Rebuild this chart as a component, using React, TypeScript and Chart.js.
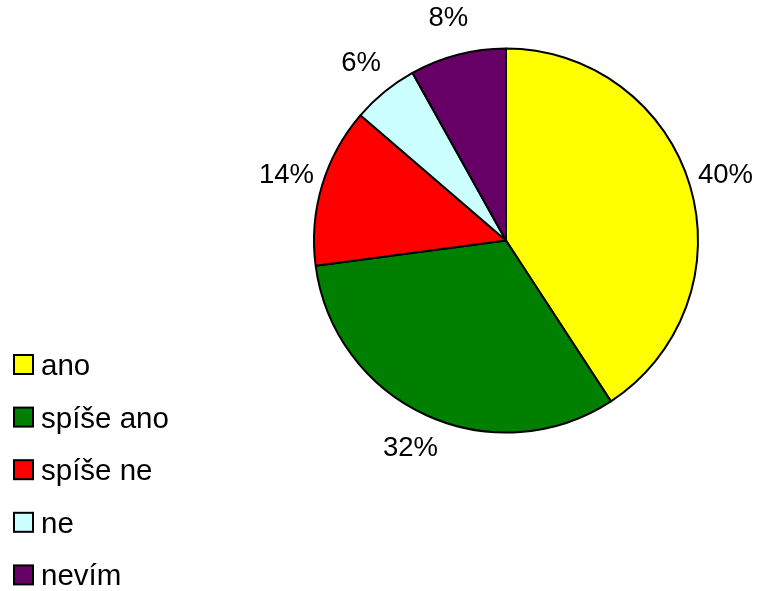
import React, { useEffect, useRef } from "react";
import { Chart, registerables } from "chart.js";

Chart.register(...registerables);

const categories = ["ano", "spíše ano", "spíše ne", "ne", "nevím"];
const shares = [40.8, 32.1, 13.4, 5.6, 8.1];
const percentLabels = ["40%", "32%", "14%", "6%", "8%"];
const sliceColors = ["#FFFF00", "#007F00", "#FF0000", "#CCFFFF", "#660066"];

const FONT = "'Liberation Sans', Arial, sans-serif";

const labelsPlugin = {
  id: "outsideLabels",
  afterDraw(chart: any) {
    const ctx = chart.ctx;
    const meta = chart.getDatasetMeta(0);
    ctx.save();
    ctx.fillStyle = "#000";
    ctx.font = `27.5px ${FONT}`;
    ctx.textAlign = "center";
    ctx.textBaseline = "middle";
    meta.data.forEach((arc: any, i: number) => {
      const p = arc.getProps(["x", "y", "startAngle", "endAngle", "outerRadius"], true);
      const mid = (p.startAngle + p.endAngle) / 2;
      const r = p.outerRadius + 37;
      ctx.fillText(percentLabels[i], p.x + Math.cos(mid) * r, p.y + Math.sin(mid) * r);
    });
    // legend
    const box = 19;
    const startY = 364.5;
    const step = 52.6;
    ctx.textAlign = "left";
    ctx.textBaseline = "alphabetic";
    ctx.font = `29.5px ${FONT}`;
    categories.forEach((c, i) => {
      const cy = startY + i * step;
      ctx.fillStyle = sliceColors[i];
      ctx.fillRect(14, cy - box / 2, box, box);
      ctx.lineWidth = 2;
      ctx.strokeStyle = "#000";
      ctx.strokeRect(14, cy - box / 2, box, box);
      ctx.fillStyle = "#000";
      ctx.fillText(c, 41, cy + 10.5);
    });
    ctx.restore();
  },
};

export default function App() {
  const ref = useRef<HTMLCanvasElement>(null);
  useEffect(() => {
    if (!ref.current) return;
    const chart = new Chart(ref.current, {
      type: "pie",
      data: {
        labels: categories,
        datasets: [
          {
            data: shares,
            backgroundColor: sliceColors,
            borderColor: "#000",
            borderWidth: 2,
          },
        ],
      },
      options: {
        animation: false,
        responsive: false,
        radius: 192,
        layout: { padding: { left: 314, right: 62, top: 48, bottom: 158 } },
        plugins: {
          legend: { display: false },
          tooltip: { enabled: false },
        },
      } as any,
      plugins: [labelsPlugin],
    });
    return () => chart.destroy();
  }, []);
  return (
    <div style={{ position: "absolute", left: 0, top: 0, width: 760, height: 591, background: "#fff" }}>
      <canvas ref={ref} width={760} height={591} style={{ width: 760, height: 591 }} />
    </div>
  );
}
